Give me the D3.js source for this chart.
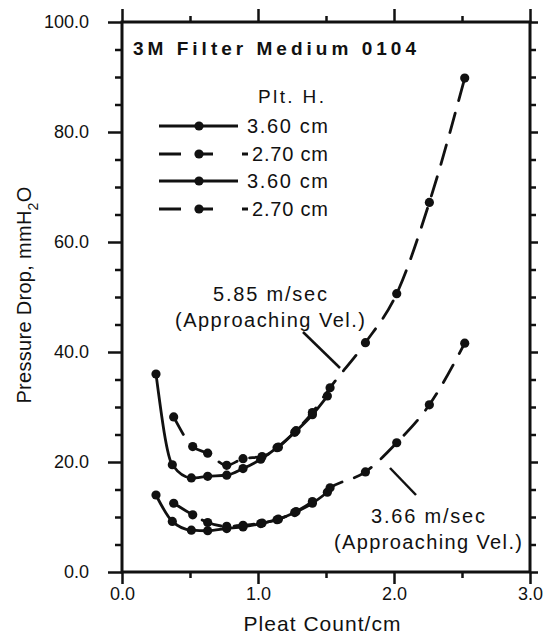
<!DOCTYPE html>
<html>
<head>
<meta charset="utf-8">
<script src="https://cdn.jsdelivr.net/npm/d3@7"></script>
<style>
  body { margin: 0; background: #fff; }
  svg text { font-family: "Liberation Sans", Arial, sans-serif; fill: #111; }
</style>
</head>
<body>
<svg id="chart" width="546" height="638"></svg>
<script>
// pleat count (1/cm) and pressure drop (mmH2O)
var pleatSolid  = [0.25, 0.37, 0.51, 0.63, 0.77, 0.89, 1.02, 1.14, 1.27, 1.40, 1.51];
var pleatDashed = [0.38, 0.52, 0.63, 0.77, 0.89, 1.03, 1.15, 1.28, 1.40, 1.53, 1.79, 2.02, 2.26, 2.52];

var dropHiSolid  = [36.0, 19.5, 17.1, 17.4, 17.6, 18.8, 20.5, 22.6, 25.4, 28.6, 32.0];
var dropHiDashed = [28.2, 22.8, 21.6, 19.4, 20.6, 21.0, 22.7, 25.7, 29.0, 33.5, 41.7, 50.6, 67.2, 89.8];
var dropLoSolid  = [14.0, 9.2, 7.6, 7.5, 7.9, 8.2, 8.8, 9.5, 10.8, 12.5, 14.5];
var dropLoDashed = [12.5, 10.4, 9.0, 8.3, 8.5, 8.9, 9.6, 11.0, 12.8, 15.3, 18.2, 23.5, 30.4, 41.6];

var legendLabels = ["3.60 cm", "2.70 cm", "3.60 cm", "2.70 cm"];
var legendDashed = [false, true, false, true];

var xMajor = [0, 1, 2, 3], xMinor = [0.5, 1.5, 2.5];
var yMajor = [0, 20, 40, 60, 80, 100];
var yMinor = d3.range(5, 100, 5).filter(function(v) { return v % 20; });

var svg = d3.select("#chart");
var x = d3.scaleLinear().domain([0, 3]).range([122, 530]);
var y = d3.scaleLinear().domain([0, 100]).range([572, 22]);

function axisGroup(axis, tx, ty) {
  var g = svg.append("g").attr("transform", "translate(" + tx + "," + ty + ")").call(axis);
  g.select(".domain").remove();
  g.selectAll("line").attr("stroke", "#111").attr("stroke-width", 2.5);
  g.selectAll("text").attr("fill", "#111").attr("font-size", 18)
    .attr("font-family", "Liberation Sans, Arial, sans-serif");
  return g;
}

// ticks all round, pointing out
axisGroup(d3.axisLeft(y).tickValues(yMajor).tickSize(14).tickPadding(19).tickFormat(d3.format(".1f")), 122, 0);
axisGroup(d3.axisLeft(y).tickValues(yMinor).tickSize(7).tickFormat(""), 122, 0);
axisGroup(d3.axisRight(y).tickValues(yMajor).tickSize(8).tickFormat(""), 530, 0);
axisGroup(d3.axisRight(y).tickValues(yMinor).tickSize(6).tickFormat(""), 530, 0);
axisGroup(d3.axisBottom(x).tickValues(xMajor).tickSize(12).tickPadding(3).tickFormat(d3.format(".1f")), 0, 572);
axisGroup(d3.axisBottom(x).tickValues(xMinor).tickSize(6).tickFormat(""), 0, 572);
axisGroup(d3.axisTop(x).tickValues(xMajor).tickSize(13).tickFormat(""), 0, 22);
axisGroup(d3.axisTop(x).tickValues(xMinor).tickSize(6).tickFormat(""), 0, 22);

svg.append("rect")
  .attr("x", x(0)).attr("y", y(100))
  .attr("width", x(3) - x(0)).attr("height", y(0) - y(100))
  .attr("fill", "none").attr("stroke", "#111").attr("stroke-width", 3);

// curves
var line = d3.line()
  .x(function(d) { return x(d[0]); })
  .y(function(d) { return y(d[1]); })
  .curve(d3.curveMonotoneX);

function series(xs, ys, dashed) {
  var pts = d3.zip(xs, ys);
  svg.append("path").datum(pts)
    .attr("d", line)
    .attr("fill", "none").attr("stroke", "#111").attr("stroke-width", 2.8)
    .attr("stroke-linecap", "round")
    .attr("stroke-dasharray", dashed ? "20,13" : null);
  svg.append("g").selectAll("circle").data(pts).enter().append("circle")
    .attr("cx", function(d) { return x(d[0]); })
    .attr("cy", function(d) { return y(d[1]); })
    .attr("r", 4.6).attr("fill", "#111");
}
series(pleatSolid, dropHiSolid, false);
series(pleatDashed, dropHiDashed, true);
series(pleatSolid, dropLoSolid, false);
series(pleatDashed, dropLoDashed, true);

// title and legend
svg.append("text").attr("x", 133).attr("y", 55)
  .attr("font-size", 19).attr("font-weight", "bold")
  .attr("textLength", 283).attr("lengthAdjust", "spacing")
  .text("3M Filter Medium 0104");

svg.append("text").attr("x", 258).attr("y", 103).attr("font-size", 19)
  .attr("textLength", 66).attr("lengthAdjust", "spacing")
  .text("Plt. H.");

var rowY = [126, 154, 181, 209];
legendLabels.forEach(function(lab, i) {
  var ly = rowY[i];
  svg.append("line").attr("x1", 159).attr("x2", legendDashed[i] ? 248 : 238)
    .attr("y1", ly).attr("y2", ly)
    .attr("stroke", "#111").attr("stroke-width", 2.8)
    .attr("stroke-dasharray", legendDashed[i] ? "22,14,18,29,6" : null);
  svg.append("circle").attr("cx", 199).attr("cy", ly).attr("r", 4.6).attr("fill", "#111");
  svg.append("text").attr("x", legendDashed[i] ? 252 : 247).attr("y", ly + 7)
    .attr("font-size", 20)
    .attr("textLength", legendDashed[i] ? 76 : 81).attr("lengthAdjust", "spacing")
    .text(lab);
});

// annotations
function note(cx, by, lines) {
  lines.forEach(function(t, i) {
    svg.append("text").attr("x", cx).attr("y", by + i * 26)
      .attr("text-anchor", "middle").attr("font-size", 20)
      .attr("textLength", t.len).attr("lengthAdjust", "spacing")
      .text(t.s);
  });
}
note(270, 301, [{s: "5.85 m/sec", len: 114}, {s: "(Approaching Vel.)", len: 190}]);
note(428, 523, [{s: "3.66 m/sec", len: 114}, {s: "(Approaching Vel.)", len: 188}]);

svg.append("line").attr("x1", 303).attr("y1", 332).attr("x2", 340).attr("y2", 368)
  .attr("stroke", "#111").attr("stroke-width", 2.5);
svg.append("line").attr("x1", 390).attr("y1", 468).attr("x2", 416).attr("y2", 495)
  .attr("stroke", "#111").attr("stroke-width", 2.5);

// axis titles
svg.append("text").attr("x", 322).attr("y", 631).attr("text-anchor", "middle")
  .attr("font-size", 21).attr("textLength", 157).attr("lengthAdjust", "spacing")
  .text("Pleat Count/cm");

svg.append("text")
  .attr("transform", "translate(31,295) rotate(-90)")
  .attr("text-anchor", "middle").attr("font-size", 20).attr("letter-spacing", 0.3)
  .call(function(t) {
    t.append("tspan").text("Pressure Drop, mmH");
    t.append("tspan").attr("font-size", 14).attr("dy", 7).text("2");
    t.append("tspan").attr("dy", -7).text("O");
  });
</script>
</body>
</html>
